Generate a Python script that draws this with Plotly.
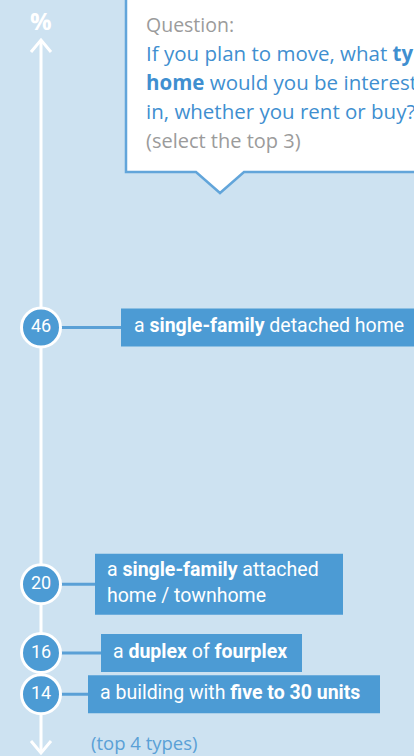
import numpy as np
import plotly.graph_objects as go

# ---- data ----
values = [46, 20, 16, 14]
value_labels = ["46", "20", "16", "14"]
type_labels = [
    "a <b>single-family</b> detached home",
    "a <b>single-family</b> attached<br>home / townhome",
    "a <b>duplex</b> of <b>fourplex</b>",
    "a building with <b>five to 30 units</b>",
]
question_lines = [
    "If you plan to move, what <b>type of</b>",
    "<b>home</b> would you be interested",
    "in, whether you rent or buy?",
]

# ---- styles / layout ----
W, H = 414, 756
BG = "#cde2f1"
BLUE = "#4c9bd4"
LINE_BLUE = "#5aa0d6"
Q_BLUE = "#3f8fd0"
Q_BORDER = "#62a5da"
GREY = "#9b9b9b"
AXIS_X = 41
box_left = [121, 95, 101, 88]
box_right = [440, 343, 302, 380]
box_h = [38, 61, 38, 38]
text_x = [134, 107, 113, 100]

fig = go.Figure()

# connectors (circle -> box)
for v, bl in zip(values, box_left):
    fig.add_trace(go.Scatter(x=[AXIS_X, bl], y=[v, v], mode="lines",
                             line=dict(color=LINE_BLUE, width=3),
                             hoverinfo="skip", showlegend=False))

# label boxes: thick butt-capped lines centred on the value
for v, bl, br, bh in zip(values, box_left, box_right, box_h):
    fig.add_trace(go.Scatter(x=[bl, br], y=[v, v], mode="lines",
                             line=dict(color=BLUE, width=bh),
                             hoverinfo="skip", showlegend=False))

# circles with values
fig.add_trace(go.Scatter(
    x=[AXIS_X] * len(values), y=values, mode="markers+text",
    text=value_labels, textposition="middle center",
    textfont=dict(color="white", size=18, family="Roboto"),
    marker=dict(size=39, color=BLUE, line=dict(color="white", width=3)),
    hoverinfo="skip", showlegend=False))

# label texts
fig.add_trace(go.Scatter(
    x=text_x, y=values, mode="text", text=type_labels,
    textposition="middle right",
    textfont=dict(color="white", size=19.5, family="Roboto"),
    hoverinfo="skip", showlegend=False))

shapes = []
# axis line & arrows (pixel coords via y2)
shapes.append(dict(type="line", xref="x", yref="y2", x0=AXIS_X, x1=AXIS_X, y0=40, y1=753,
                   line=dict(color="white", width=3), layer="below"))
shapes.append(dict(type="path", xref="x", yref="y2",
                   path=f"M{AXIS_X-10},52 L{AXIS_X},40 L{AXIS_X+10},52",
                   line=dict(color="white", width=3), layer="below"))
shapes.append(dict(type="path", xref="x", yref="y2",
                   path=f"M{AXIS_X-10},741 L{AXIS_X},753 L{AXIS_X+10},741",
                   line=dict(color="white", width=3), layer="below"))

# question callout
shapes.append(dict(type="path", xref="x", yref="y2",
                   path="M126,-10 L126,172 L196,172 L220,193 L244,172 L430,172 L430,-10 Z",
                   fillcolor="white", line=dict(color=Q_BORDER, width=2.5), layer="below"))

annotations = [
    dict(x=AXIS_X, y=20, xref="x", yref="y2", text="<b>%</b>", showarrow=False,
         font=dict(color="white", size=24, family="Open Sans"), xanchor="center", yanchor="middle"),
    dict(x=144, y=24, xref="x", yref="y2", text="Question:", showarrow=False,
         font=dict(color=GREY, size=19.5, family="Open Sans"), xanchor="left", yanchor="middle"),
    dict(x=144, y=140, xref="x", yref="y2", text="(select the top 3)", showarrow=False,
         font=dict(color=GREY, size=20, family="Open Sans"), xanchor="left", yanchor="middle"),
    dict(x=89, y=742, xref="x", yref="y2", text="(top 4 types)", showarrow=False,
         font=dict(color=LINE_BLUE, size=18.5, family="Open Sans"), xanchor="left", yanchor="middle"),
]
for i, line in enumerate(question_lines):
    annotations.append(dict(x=144, y=53 + 29 * i, xref="x", yref="y2", text=line,
                            showarrow=False, font=dict(color=Q_BLUE, size=20.5, family="Open Sans"),
                            xanchor="left", yanchor="middle"))

fig.update_layout(
    width=W, height=H, autosize=False,
    margin=dict(l=0, r=0, t=0, b=0),
    paper_bgcolor=BG, plot_bgcolor=BG,
    xaxis=dict(range=[0, W], visible=False, fixedrange=True),
    yaxis=dict(type="log", range=[1.0590, 2.1242], visible=False, fixedrange=True),
    yaxis2=dict(range=[H, 0], visible=False, overlaying="y", fixedrange=True),
    annotations=annotations, shapes=shapes,
    showlegend=False,
)

fig.write_html(
    "out.html",
    config={"displayModeBar": False},
    post_script="document.body.style.margin='0';document.body.style.overflow='hidden';"
                "document.body.style.background='" + BG + "';",
)
